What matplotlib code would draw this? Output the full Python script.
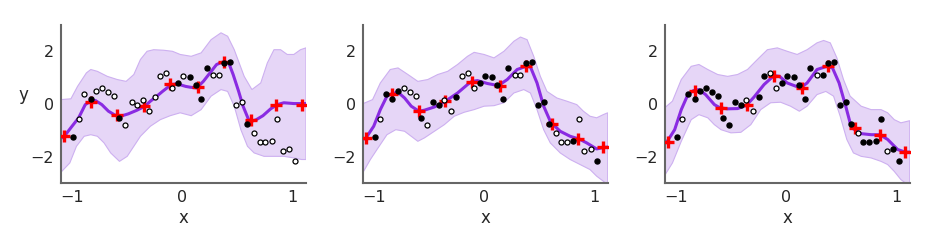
import numpy as np
import matplotlib
matplotlib.use('Agg')
import matplotlib.pyplot as plt

# observed inputs, shared by the three panels
xPts = [-0.99, -0.94, -0.89, -0.83, -0.78, -0.73, -0.67, -0.62, -0.57, -0.52,
        -0.46, -0.41, -0.36, -0.30, -0.25, -0.20, -0.15, -0.09, -0.04, 0.01,
        0.07, 0.12, 0.17, 0.22, 0.28, 0.33, 0.38, 0.43, 0.49, 0.54,
        0.59, 0.65, 0.70, 0.75, 0.81, 0.86, 0.91, 0.97, 1.02]
yPts = [-1.26, -0.56, 0.39, 0.21, 0.51, 0.61, 0.46, 0.30, -0.52, -0.81,
        0.08, -0.04, 0.17, -0.27, 0.27, 1.05, 1.18, 0.60, 0.81, 1.05,
        1.03, 0.71, 0.21, 1.36, 1.09, 1.12, 1.56, 1.58, -0.02, 0.08,
        -0.75, -1.11, -1.42, -1.43, -1.39, -0.57, -1.79, -1.72, -2.15]

# 1 = filled (used), 0 = open circle
used1 = [1, 0, 0, 1, 0, 0, 0, 0, 1, 0, 0, 0, 0, 0, 0, 0, 0, 0, 1, 0,
         1, 1, 1, 1, 0, 0, 1, 1, 0, 0, 1, 0, 0, 0, 0, 0, 0, 0, 0]
used2 = [1, 0, 1, 1, 1, 0, 0, 0, 1, 0, 1, 1, 0, 0, 1, 0, 0, 0, 1, 1,
         1, 1, 1, 1, 0, 0, 1, 1, 1, 1, 1, 0, 0, 0, 1, 0, 0, 0, 1]
used3 = [1, 0, 1, 1, 1, 1, 1, 1, 1, 1, 1, 1, 0, 0, 1, 1, 0, 0, 1, 1,
         1, 1, 1, 1, 0, 1, 1, 1, 1, 1, 1, 0, 1, 1, 1, 1, 0, 1, 1]

# inducing points (red crosses)
xInd = [-1.07, -0.83, -0.59, -0.35, -0.11, 0.14, 0.38, 0.62, 0.85, 1.08]
yInd1 = [-1.22, 0.09, -0.42, -0.08, 0.75, 0.63, 1.59, -0.62, -0.02, -0.02]
yInd2 = [-1.28, 0.40, -0.28, 0.11, 0.85, 0.70, 1.43, -0.75, -1.32, -1.64]
yInd3 = [-1.43, 0.51, -0.14, -0.05, 1.08, 0.61, 1.43, -0.92, -1.16, -1.82]

# posterior mean
xMean1 = [-1.10, -1.07, -1.00, -0.94, -0.88, -0.83, -0.79, -0.73, -0.67, -0.61,
          -0.56, -0.49, -0.41, -0.34, -0.29, -0.24, -0.18, -0.10, -0.05, 0.03,
          0.07, 0.13, 0.19, 0.25, 0.31, 0.37, 0.42, 0.46, 0.51, 0.55,
          0.60, 0.63, 0.67, 0.73, 0.80, 0.86, 0.92, 1.01, 1.12]
yMean1 = [-1.30, -1.22, -0.84, -0.52, -0.02, 0.11, 0.14, -0.02, -0.27, -0.42,
          -0.46, -0.37, -0.23, -0.08, 0.11, 0.27, 0.48, 0.74, 0.77, 0.67,
          0.64, 0.61, 0.86, 1.18, 1.50, 1.60, 1.56, 1.12, 0.48, -0.08,
          -0.59, -0.65, -0.59, -0.44, -0.18, -0.02, 0.05, 0.02, 0.02]
xMean2 = [-1.10, -1.07, -1.00, -0.94, -0.88, -0.83, -0.78, -0.72, -0.66, -0.59,
          -0.54, -0.45, -0.35, -0.24, -0.15, -0.11, -0.06, 0.03, 0.13, 0.21,
          0.30, 0.38, 0.42, 0.48, 0.54, 0.60, 0.62, 0.69, 0.78, 0.86,
          0.93, 1.02, 1.09, 1.12]
yMean2 = [-1.35, -1.28, -0.84, -0.21, 0.30, 0.40, 0.45, 0.23, -0.08, -0.27,
          -0.23, -0.11, 0.11, 0.42, 0.74, 0.86, 0.89, 0.78, 0.70, 0.93,
          1.31, 1.43, 1.41, 0.80, -0.08, -0.65, -0.75, -1.03, -1.22, -1.32,
          -1.47, -1.70, -1.64, -1.63]
xMean3 = [-1.10, -1.08, -1.01, -0.95, -0.89, -0.84, -0.79, -0.73, -0.65, -0.60,
          -0.53, -0.44, -0.36, -0.29, -0.20, -0.11, -0.06, 0.01, 0.13, 0.19,
          0.28, 0.37, 0.42, 0.48, 0.54, 0.58, 0.61, 0.68, 0.77, 0.85,
          0.92, 1.01, 1.08, 1.12]
yMean3 = [-1.50, -1.43, -0.97, -0.21, 0.36, 0.51, 0.55, 0.36, -0.02, -0.14,
          -0.18, -0.17, -0.05, 0.27, 0.74, 1.08, 1.05, 0.80, 0.61, 0.80,
          1.31, 1.43, 1.37, 0.80, -0.08, -0.71, -0.94, -1.12, -1.16, -1.16,
          -1.34, -1.72, -1.82, -1.82]

# band upper / lower edges
xUp1 = [-1.10, -1.01, -0.95, -0.87, -0.83, -0.77, -0.68, -0.59, -0.51, -0.44,
        -0.38, -0.32, -0.26, -0.17, -0.09, -0.02, 0.08, 0.17, 0.26, 0.35,
        0.41, 0.47, 0.56, 0.63, 0.71, 0.77, 0.83, 0.89, 0.95, 1.01,
        1.07, 1.12]
yUp1 = [0.17, 0.20, 0.67, 1.18, 1.31, 1.24, 1.05, 0.93, 0.86, 1.12,
        1.69, 2.00, 2.06, 2.04, 2.00, 1.88, 1.81, 1.94, 2.44, 2.70,
        2.57, 2.06, 1.05, 0.55, 0.80, 1.56, 2.06, 2.06, 1.88, 1.88,
        2.06, 2.13]
xLo1 = [-1.10, -1.02, -0.96, -0.89, -0.83, -0.77, -0.71, -0.65, -0.57, -0.50,
        -0.44, -0.38, -0.29, -0.20, -0.11, -0.02, 0.08, 0.17, 0.26, 0.35,
        0.41, 0.47, 0.53, 0.59, 0.65, 0.74, 0.83, 0.92, 1.01, 1.08,
        1.12]
yLo1 = [-2.58, -2.23, -1.60, -1.22, -1.16, -1.22, -1.47, -1.85, -2.17, -1.98,
        -1.60, -1.22, -0.84, -0.59, -0.44, -0.33, -0.44, -0.21, 0.30, 0.55,
        0.48, -0.08, -0.97, -1.60, -1.85, -1.98, -1.98, -1.98, -2.04, -2.10,
        -2.10]

xUp2 = [-1.10, -1.01, -0.94, -0.85, -0.78, -0.69, -0.60, -0.51, -0.42, -0.33,
        -0.24, -0.15, -0.09, 0.00, 0.09, 0.18, 0.27, 0.33, 0.39, 0.45,
        0.51, 0.57, 0.66, 0.75, 0.84, 0.90, 0.96, 1.02, 1.08, 1.12]
yUp2 = [0.01, 0.17, 0.80, 1.31, 1.37, 1.12, 0.86, 0.93, 1.12, 1.24,
        1.50, 1.81, 1.96, 1.88, 1.75, 2.00, 2.38, 2.54, 2.44, 1.81,
        1.05, 0.48, 0.23, 0.11, -0.02, -0.27, -0.46, -0.52, -0.40, -0.33]
xLo2 = [-1.10, -1.03, -0.97, -0.88, -0.80, -0.72, -0.66, -0.60, -0.54, -0.45,
        -0.36, -0.27, -0.18, -0.09, 0.00, 0.09, 0.18, 0.27, 0.36, 0.42,
        0.48, 0.54, 0.60, 0.69, 0.78, 0.87, 0.96, 1.02, 1.08, 1.12]
yLo2 = [-2.61, -2.10, -1.72, -1.16, -0.97, -1.03, -1.22, -1.41, -1.28, -1.03,
        -0.78, -0.46, -0.31, -0.21, -0.08, -0.06, 0.05, 0.42, 0.55, 0.42,
        -0.21, -0.97, -1.47, -1.85, -2.10, -2.29, -2.48, -2.73, -2.92, -3.05]

xUp3 = [-1.10, -1.03, -0.95, -0.86, -0.79, -0.71, -0.62, -0.53, -0.44, -0.35,
        -0.26, -0.17, -0.08, 0.01, 0.10, 0.19, 0.28, 0.34, 0.40, 0.46,
        0.52, 0.58, 0.68, 0.77, 0.86, 0.92, 0.98, 1.04, 1.10, 1.12]
yUp3 = [-0.14, 0.11, 0.93, 1.43, 1.50, 1.31, 1.12, 1.05, 1.12, 1.31,
        1.69, 2.06, 2.13, 2.00, 1.88, 2.06, 2.32, 2.41, 2.32, 1.75,
        0.93, 0.30, -0.08, -0.21, -0.21, -0.33, -0.59, -0.71, -0.65, -0.63]
xLo3 = [-1.10, -1.03, -0.95, -0.86, -0.79, -0.71, -0.65, -0.59, -0.50, -0.41,
        -0.32, -0.23, -0.14, -0.05, 0.04, 0.12, 0.19, 0.28, 0.36, 0.43,
        0.49, 0.55, 0.61, 0.68, 0.77, 0.86, 0.92, 0.98, 1.04, 1.10,
        1.12]
yLo3 = [-2.70, -2.23, -1.41, -0.59, -0.40, -0.52, -0.78, -0.97, -1.09, -1.07,
        -0.78, -0.21, 0.05, 0.07, -0.08, -0.27, -0.08, 0.36, 0.48, 0.30,
        -0.46, -1.34, -1.85, -1.98, -2.04, -2.17, -2.29, -2.55, -2.86, -3.05,
        -3.11]

purple = '#8a2be2'

panels = [
    (used1, yInd1, xMean1, yMean1, xUp1, yUp1, xLo1, yLo1),
    (used2, yInd2, xMean2, yMean2, xUp2, yUp2, xLo2, yLo2),
    (used3, yInd3, xMean3, yMean3, xUp3, yUp3, xLo3, yLo3),
]

plt.rcParams['font.family'] = ['DejaVu Sans']
fig = plt.figure(figsize=(9.34, 2.49), dpi=100)
lefts = [0.0653, 0.3883, 0.7117]

xP = np.array(xPts)
yP = np.array(yPts)

for i, (used, yInd, xm, ym, xu, yu, xl, yl) in enumerate(panels):
    ax = fig.add_axes([lefts[i], 0.264, 0.2623, 0.636])
    m = np.array(used, dtype=bool)

    # shaded band as polygon: upper edge then lower edge backwards
    bx = np.r_[xu, xl[::-1]]
    by = np.r_[yu, yl[::-1]]
    ax.fill(bx, by, facecolor='#e6d6f7', edgecolor='#cdb0f0', linewidth=0.8, zorder=1)

    ax.plot(xm, ym, color=purple, linewidth=2.2, zorder=2)
    ax.plot(xInd, yInd, '+', color='red', markersize=8, markeredgewidth=2.4, zorder=3)

    ax.plot(xP[~m], yP[~m], 'o', markerfacecolor='white', markeredgecolor='black',
            markersize=3.6, markeredgewidth=0.9, zorder=4)
    ax.plot(xP[m], yP[m], 'o', color='black', markersize=3.6, zorder=5)

    ax.set_xlim(-1.1, 1.12)
    ax.set_ylim(-3, 3)
    ax.set_xticks([-1, 0, 1])
    ax.set_yticks([-2, 0, 2])
    ax.tick_params(length=0, labelsize=11.5, labelcolor='#262626', pad=5)
    for s in ['top', 'right']:
        ax.spines[s].set_visible(False)
    for s in ['left', 'bottom']:
        ax.spines[s].set_color('#666666')
        ax.spines[s].set_linewidth(1.5)
    ax.set_xlabel('x', fontsize=12, color='#262626', labelpad=3)
    if i == 0:
        ax.set_ylabel('y', fontsize=12, color='#262626', rotation=0, labelpad=5)

fig.savefig('out.png', dpi=100)
